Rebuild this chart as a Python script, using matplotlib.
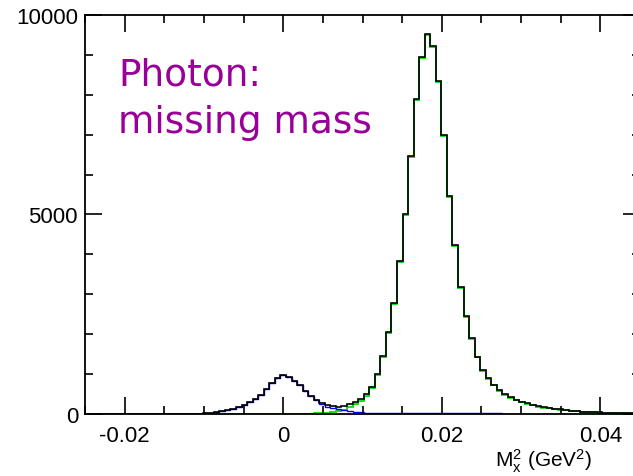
import numpy as np
import matplotlib.pyplot as plt
from matplotlib.ticker import MultipleLocator

plt.rcParams['mathtext.fontset'] = 'custom'
plt.rcParams['mathtext.rm'] = 'Liberation Sans'
plt.rcParams['mathtext.it'] = 'Liberation Sans'

# bins of width 0.0007 centred on multiples of 0.0007, k = -35 .. 64
bin_w = 0.0007
k = np.arange(-35, 65)

total = [0, 0, 0, 0, 0, 0, 0, 0, 0, 0,
         0, 0, 0, 0, 1, 2, 3, 4, 5, 7,
         10, 15, 27, 44, 68, 95, 128, 170, 220, 295,
         380, 488, 638, 780, 905, 965, 925, 830, 715, 575,
         450, 355, 272, 217, 190, 185, 200, 240, 300, 380,
         500, 680, 1000, 1460, 2060, 2780, 3840, 5010, 6460, 7890,
         8950, 9520, 9215, 8350, 6990, 5455, 4240, 3175, 2450, 1900,
         1435, 1100, 900, 730, 600, 500, 420, 360, 310, 265,
         225, 192, 167, 150, 134, 117, 100, 86, 72, 62,
         53, 45, 38, 32, 27, 23, 20, 17, 15, 13]

photon = [0, 0, 0, 0, 0, 0, 0, 0, 0, 0,
          0, 0, 0, 0, 1, 2, 3, 4, 5, 7,
          10, 15, 27, 44, 68, 95, 128, 170, 220, 295,
          380, 488, 638, 780, 905, 965, 925, 830, 715, 572,
          442, 341, 250, 185, 142, 113, 88, 70, 55, 45,
          37, 31, 28, 26, 25, 24, 23, 22, 21, 20,
          20, 19, 19, 18, 18, 17, 17, 16, 16, 15,
          15, 14, 14, 13, 13, 12, 12, 11, 11, 10,
          10, 9, 9, 8, 8, 7, 7, 6, 6, 6,
          5, 5, 5, 4, 4, 4, 3, 3, 3, 3]

pi0 = [0, 0, 0, 0, 0, 0, 0, 0, 0, 0,
       0, 0, 0, 0, 0, 0, 0, 0, 0, 0,
       0, 0, 0, 0, 0, 0, 0, 0, 0, 0,
       0, 0, 0, 0, 0, 0, 0, 0, 0, 3,
       8, 14, 22, 32, 48, 72, 112, 170, 245, 335,
       463, 649, 972, 1434, 2035, 2756, 3817, 4988, 6439, 7870,
       8930, 9501, 9196, 8332, 6972, 5438, 4223, 3159, 2434, 1885,
       1420, 1086, 886, 717, 587, 488, 408, 349, 299, 255,
       215, 183, 158, 142, 126, 110, 93, 80, 66, 56,
       48, 40, 33, 28, 23, 19, 17, 14, 12, 10]

edges = np.append((k - 0.5) * bin_w, (k[-1] + 0.5) * bin_w)

fig = plt.figure(figsize=(6.33, 4.77), dpi=100)
ax = fig.add_axes([85 / 633, 62 / 477, 555 / 633, 399 / 477])

ax.stairs(pi0, edges, color='#00e000', lw=1.3)
ax.stairs(photon, edges, color='#0000ff', lw=1.0)
ax.stairs(total, edges, color='black', lw=1.2)

ax.set_xlim(-0.025, 0.045)
ax.set_ylim(0, 10000)

ax.xaxis.set_major_locator(MultipleLocator(0.02))
ax.xaxis.set_minor_locator(MultipleLocator(0.005))
ax.yaxis.set_major_locator(MultipleLocator(5000))
ax.yaxis.set_minor_locator(MultipleLocator(1000))
ax.tick_params(which='both', direction='in', top=True, right=True, width=1.2)
ax.tick_params(which='major', length=12, labelsize=16)
ax.tick_params(axis='x', which='major', pad=8)
ax.tick_params(axis='y', which='major', pad=5)
ax.tick_params(which='minor', length=6)
ax.xaxis.set_major_formatter(plt.FuncFormatter(lambda v, p: '0' if abs(v) < 1e-9 else '%g' % v))
for lab in ax.get_xticklabels() + ax.get_yticklabels():
    lab.set_family('Liberation Sans')
for s in ax.spines.values():
    s.set_linewidth(1.3)

ax.text(0.738, -0.082, r'M$_\mathregular{x}^\mathregular{2}$ (GeV$^\mathregular{2}$)',
        transform=ax.transAxes, fontsize=15, family='Liberation Sans', va='top', ha='left')

ax.text(0.06, 0.895, 'Photon:\nmissing mass', transform=ax.transAxes, fontsize=27,
        color='#990099', va='top', ha='left', linespacing=1.4, family='DejaVu Sans')

fig.savefig('out.png', dpi=100)
